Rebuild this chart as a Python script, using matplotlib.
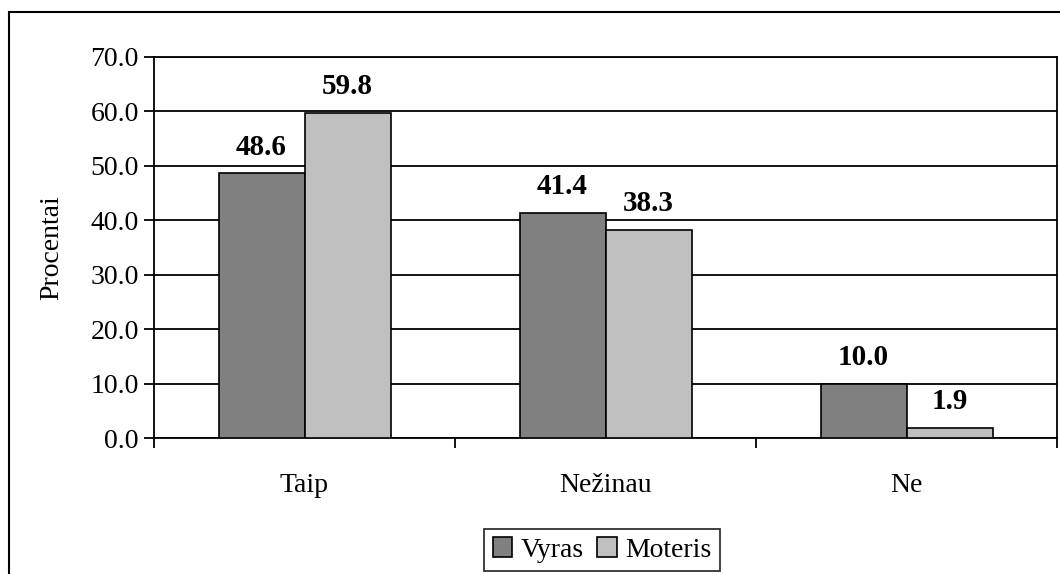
import numpy as np
import matplotlib.pyplot as plt
from matplotlib.patches import Rectangle

plt.rcParams['font.family'] = ['Liberation Serif', 'DejaVu Serif']

# Atsakymai pagal lytį, procentais
categories = ['Taip', 'Nežinau', 'Ne']
vyras = [48.6, 41.4, 10.0]
moteris = [59.8, 38.3, 1.9]
series_names = ['Vyras', 'Moteris']
yticks = [0, 10, 20, 30, 40, 50, 60, 70]

fig = plt.figure(figsize=(10.6, 5.74), dpi=100)
ax = fig.add_axes([154 / 1060, 1 - 438 / 574, 903 / 1060, 381 / 574])

# juodas rėmelis aplink visą diagramą
fig.add_artist(Rectangle((9 / 1060, -0.5), 1.5, 1.5 - 12 / 574,
                         transform=fig.transFigure, fill=False,
                         edgecolor='black', linewidth=1.5))

x = np.arange(len(categories))
w = 1 / 3.5  # tarpas tarp grupių 150 %
b1 = ax.bar(x - w / 2, vyras, w, color='#808080', edgecolor='black',
            linewidth=1.2, label=series_names[0], zorder=3)
b2 = ax.bar(x + w / 2, moteris, w, color='#C0C0C0', edgecolor='black',
            linewidth=1.2, label=series_names[1], zorder=3)

for bars, vals in ((b1, vyras), (b2, moteris)):
    for bar, v in zip(bars, vals):
        ax.annotate(f'{v:.1f}', (bar.get_x() + bar.get_width() / 2, v),
                    xytext=(0, 9), textcoords='offset points',
                    ha='center', va='bottom', fontsize=21, fontweight='bold')

ax.set_xlim(-0.5, len(categories) - 0.5)
ax.set_ylim(0, 70)
ax.set_yticks(yticks)
ax.set_yticklabels([f'{t:.1f}' for t in yticks])
ax.yaxis.grid(True, color='black', linewidth=1.3, zorder=0)
ax.set_axisbelow(True)

# kategorijų žymės tarp grupių
ax.set_xticks(np.arange(len(categories) + 1) - 0.5)
ax.set_xticklabels([])
ax.set_xticks(x, minor=True)
ax.set_xticklabels(categories, minor=True)
ax.tick_params(axis='x', which='major', direction='out', length=7, width=1.3)
ax.tick_params(axis='x', which='minor', length=0, pad=25, labelsize=20)
ax.tick_params(axis='y', direction='out', length=7, width=1.3, labelsize=20, pad=4)

for s in ax.spines.values():
    s.set_linewidth(1.3)
    s.set_color('black')

ax.set_ylabel('Procentai', fontsize=20, labelpad=19)

leg = fig.legend(loc='center', bbox_to_anchor=(602 / 1060, 1 - 550 / 574),
                 ncol=2, fontsize=20, frameon=True, fancybox=False,
                 edgecolor='black', handlelength=0.7, handleheight=0.7,
                 handletextpad=0.3, columnspacing=0.5, borderpad=0.3,
                 borderaxespad=0)
leg.get_frame().set_linewidth(1.3)

fig.savefig('out.png', dpi=100)
